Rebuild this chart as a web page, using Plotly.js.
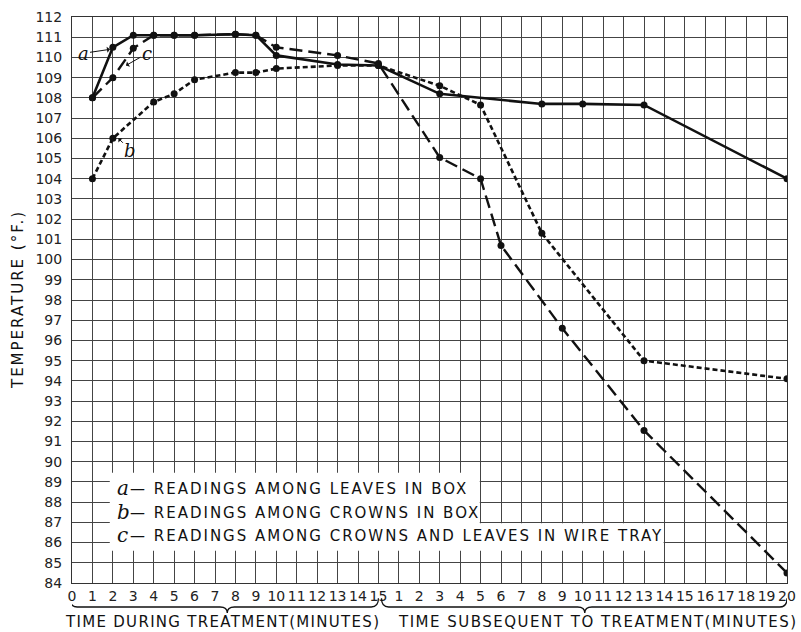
<!DOCTYPE html>
<html>
<head>
<meta charset="utf-8">
<script src="https://cdn.plot.ly/plotly-3.0.1.min.js"></script>
<style>
  html, body { margin: 0; padding: 0; background: #fff; }
  #chart { width: 801px; height: 632px; }
</style>
</head>
<body>
<div id="chart"></div>
<script>
// ---- tick positions / labels ----
const xTickVals = [0,1,2,3,4,5,6,7,8,9,10,11,12,13,14,15,16,17,18,19,20,21,22,23,24,25,26,27,28,29,30,31,32,33,34,35];
const xTickText = ['0','1','2','3','4','5','6','7','8','9','10','11','12','13','14','15',
                   '1','2','3','4','5','6','7','8','9','10','11','12','13','14','15','16','17','18','19','20'];
const yTickVals = [84,85,86,87,88,89,90,91,92,93,94,95,96,97,98,99,100,101,102,103,104,105,106,107,108,109,110,111,112];

// ---- series a: readings among leaves in box (solid) ----
const aX = [1,2,3,4,5,6,8,9,10,13,15,18,23,25,28,35];
const aY = [108.0,110.5,111.1,111.1,111.1,111.1,111.15,111.1,110.1,109.65,109.6,108.2,107.7,107.7,107.65,104.0];

// ---- series b: readings among crowns in box (dotted/crossed) ----
const bX = [1,2,4,5,6,8,9,10,13,15,18,20,23,28,35];
const bY = [104.0,106.0,107.8,108.2,108.9,109.25,109.25,109.45,109.6,109.6,108.6,107.65,101.3,95.0,94.1];

// ---- series c: readings among crowns and leaves in wire tray (long dash) ----
const cX = [1,2,3,4,5,6,8,9,10,13,15,18,20,21,24,28,35];
const cY = [108.0,109.0,110.45,111.1,111.1,111.1,111.15,111.1,110.5,110.1,109.7,105.05,104.0,100.7,96.6,91.55,84.5];

// ---- legend / titles text ----
const legendLetters = ['a','b','c'];
const legendTexts = ['— READINGS AMONG LEAVES IN BOX',
                     '— READINGS AMONG CROWNS IN BOX',
                     '— READINGS AMONG CROWNS AND LEAVES IN WIRE TRAY'];
const xTitles = ['TIME DURING TREATMENT(MINUTES)', 'TIME SUBSEQUENT TO TREATMENT(MINUTES)'];
const yTitle = 'TEMPERATURE (°F.)';

const INK = '#111';
const SANS = 'DejaVu Sans, sans-serif';
const SERIF = 'DejaVu Serif, serif';

const traces = [
  { x: aX, y: aY, type: 'scatter', mode: 'lines+markers', name: 'a',
    line: { color: INK, width: 2.6 }, marker: { color: INK, size: 7 } },
  { x: cX, y: cY, type: 'scatter', mode: 'lines+markers', name: 'c',
    line: { color: INK, width: 2.4, dash: '13px,6px' }, marker: { color: INK, size: 7 } },
  { x: bX, y: bY, type: 'scatter', mode: 'lines+markers', name: 'b',
    line: { color: INK, width: 2.6, dash: '5px,3px' }, marker: { color: INK, size: 7 } }
];

function sp(s, ls) { return '<span style="letter-spacing:' + ls + 'px">' + s + '</span>'; }

const legendRowsY = [88.68, 87.5, 86.36];
const annotations = [];
for (let i = 0; i < 3; i++) {
  annotations.push({ x: 2.1, y: legendRowsY[i], xref: 'x', yref: 'y', xanchor: 'left', yanchor: 'middle',
    text: '<i>' + legendLetters[i] + '</i>', showarrow: false,
    font: { family: SERIF, size: 20, color: INK } });
  annotations.push({ x: 2.72, y: legendRowsY[i] - 0.05, xref: 'x', yref: 'y', xanchor: 'left', yanchor: 'middle',
    text: sp(legendTexts[i], 2.0), showarrow: false,
    font: { family: SANS, size: 15, color: INK } });
}
// curve labels with arrows
annotations.push({ x: 1.86, y: 110.4, xref: 'x', yref: 'y', ax: -27, ay: 4, text: '<i>a</i>',
  showarrow: true, arrowhead: 1, arrowsize: 1, arrowwidth: 1, arrowcolor: INK, standoff: 0,
  font: { family: SERIF, size: 18, color: INK } });
annotations.push({ x: 2.64, y: 109.6, xref: 'x', yref: 'y', ax: 21, ay: -12, text: '<i>c</i>',
  showarrow: true, arrowhead: 1, arrowsize: 1, arrowwidth: 1, arrowcolor: INK, standoff: 0,
  font: { family: SERIF, size: 18, color: INK } });
annotations.push({ x: 2.27, y: 106.0, xref: 'x', yref: 'y', ax: 12, ay: 12, text: '<i>b</i>',
  showarrow: true, arrowhead: 1, arrowsize: 1, arrowwidth: 1, arrowcolor: INK, standoff: 0,
  font: { family: SERIF, size: 18, color: INK } });
// x titles
annotations.push({ x: 7.35, y: -0.069, xref: 'x', yref: 'paper', xanchor: 'center', yanchor: 'middle',
  text: sp(xTitles[0], 1.3), showarrow: false, font: { family: SANS, size: 15, color: INK } });
annotations.push({ x: 25.75, y: -0.069, xref: 'x', yref: 'paper', xanchor: 'center', yanchor: 'middle',
  text: sp(xTitles[1], 1.5), showarrow: false, font: { family: SANS, size: 15, color: INK } });
// y title
annotations.push({ x: -0.0755, y: 0.5, xref: 'paper', yref: 'paper', xanchor: 'center', yanchor: 'middle',
  text: sp(yTitle, 2), textangle: -90, showarrow: false, font: { family: SANS, size: 15, color: INK } });

// braces under the two tick groups
function brace(x0, x1, tip) {
  const yE = -0.027, yL = -0.0424, yT = -0.053, r = 0.35;
  return 'M ' + x0 + ',' + yE + ' Q ' + x0 + ',' + yL + ' ' + (x0 + r) + ',' + yL +
         ' L ' + (tip - r) + ',' + yL + ' Q ' + tip + ',' + yL + ' ' + tip + ',' + yT +
         ' Q ' + tip + ',' + yL + ' ' + (tip + r) + ',' + yL +
         ' L ' + (x1 - r) + ',' + yL + ' Q ' + x1 + ',' + yL + ' ' + x1 + ',' + yE;
}
const shapes = [
  { type: 'path', xref: 'x', yref: 'paper', path: brace(-0.1, 15, 7.6), line: { color: INK, width: 1.3 } },
  { type: 'path', xref: 'x', yref: 'paper', path: brace(15.15, 35, 25.1), line: { color: INK, width: 1.3 } },
  // white legend box
  { type: 'rect', xref: 'x', yref: 'y', x0: 1.85, x1: 19.96, y0: 86.9, y1: 89.45, layer: 'above',
    fillcolor: '#fff', line: { width: 0 } },
  { type: 'rect', xref: 'x', yref: 'y', x0: 1.85, x1: 28.96, y0: 85.6, y1: 86.96, layer: 'above',
    fillcolor: '#fff', line: { width: 0 } }
];

const layout = {
  width: 801, height: 632,
  margin: { l: 72, r: 14, t: 17, b: 49 },
  paper_bgcolor: '#fff', plot_bgcolor: '#fff',
  showlegend: false,
  font: { family: SANS, color: '#222' },
  xaxis: {
    range: [0, 35], tickvals: xTickVals, ticktext: xTickText, tickangle: 0,
    showgrid: true, gridcolor: '#444', gridwidth: 1,
    showline: true, linecolor: '#333', linewidth: 1, mirror: true,
    zeroline: false, ticks: '', ticklabelstandoff: 0,
    tickfont: { family: SANS, size: 14, color: '#222' }
  },
  yaxis: {
    range: [84, 112], tickvals: yTickVals,
    showgrid: true, gridcolor: '#444', gridwidth: 1,
    showline: true, linecolor: '#333', linewidth: 1, mirror: true,
    zeroline: false, ticks: '', ticklabelstandoff: 6,
    tickfont: { family: SANS, size: 14, color: '#222' }
  },
  annotations: annotations,
  shapes: shapes
};

Plotly.newPlot('chart', traces, layout, { staticPlot: true, displayModeBar: false });
</script>
</body>
</html>
